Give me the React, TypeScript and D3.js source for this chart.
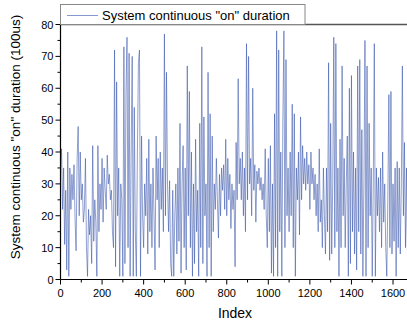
import React, { useEffect, useRef } from "react";
import * as d3 from "d3";

const STEP = 5;
const durations: number[] = [
  33, 41, 22, 35, 11, 28, 3, 40, 1, 35, 22, 33, 25, 36, 19, 9, 38, 48, 20, 40,
  25, 30, 18, 22, 38, 10, 1, 22, 14, 20, 5, 42, 12, 25, 18, 1, 42, 15, 30, 22,
  38, 18, 35, 28, 22, 39, 30, 33, 25, 28, 15, 10, 72, 4, 62, 20, 35, 1, 30, 25,
  1, 73, 5, 58, 76, 10, 71, 1, 40, 70, 1, 54, 15, 1, 40, 68, 72, 1, 45, 20,
  10, 30, 20, 38, 8, 44, 15, 30, 10, 35, 20, 3, 45, 25, 38, 10, 40, 22, 35, 15,
  77, 20, 65, 30, 15, 31, 5, 1, 28, 1, 20, 30, 8, 35, 12, 49, 2, 30, 42, 10,
  35, 3, 67, 20, 59, 10, 40, 1, 30, 5, 44, 15, 28, 1, 49, 10, 73, 5, 51, 20,
  30, 1, 65, 10, 52, 1, 45, 15, 30, 22, 38, 25, 13, 33, 20, 35, 28, 36, 22, 44,
  20, 38, 25, 33, 16, 30, 22, 28, 4, 43, 25, 63, 30, 38, 25, 40, 20, 35, 15, 74,
  25, 70, 30, 38, 20, 60, 28, 36, 18, 34, 30, 35, 28, 32, 25, 30, 22, 41, 20, 10,
  38, 15, 42, 2, 30, 1, 52, 10, 78, 1, 72, 15, 40, 1, 50, 78, 10, 69, 20, 35,
  15, 40, 20, 55, 10, 52, 1, 35, 25, 40, 14, 51, 25, 42, 30, 38, 28, 40, 30, 36,
  22, 40, 30, 35, 25, 33, 20, 30, 15, 41, 18, 25, 10, 35, 20, 8, 35, 15, 68, 6,
  49, 8, 30, 76, 10, 74, 15, 35, 1, 44, 10, 67, 20, 38, 10, 30, 45, 1, 60, 5,
  64, 15, 40, 8, 35, 3, 67, 15, 69, 8, 47, 1, 30, 75, 1, 67, 10, 49, 20, 35,
  1, 30, 74, 1, 35, 20, 32, 15, 35, 10, 40, 18, 30, 10, 1, 25, 58, 10, 59, 8,
  30, 12, 35, 1, 37, 10, 35, 8, 30, 67, 20, 43, 10, 35, 5, 42, 20, 30, 15,
];
const xTicks: number[] = [0, 200, 400, 600, 800, 1000, 1200, 1400, 1600];
const yTicks: number[] = [0, 10, 20, 30, 40, 50, 60, 70, 80];
const legendLabel = 'System continuous "on" duration';
const xTitle = "Index";
const yTitle = 'System continuous "on" duration (100us)';

const W = 407;
const H = 324;
const FONT = "'Liberation Sans', Arial, sans-serif";
const LINE = "#3450a8";

export default function App() {
  const ref = useRef<SVGSVGElement | null>(null);

  useEffect(() => {
    const svg = d3.select(ref.current);
    svg.selectAll("*").remove();

    const x = d3.scaleLinear().domain([0, 1700]).range([60.5, 413.8]);
    const y = d3.scaleLinear().domain([0, 80]).range([279.5, 24.5]);

    const data = durations.map((v, i) => ({ i: i * STEP, v }));

    const line = d3
      .line<{ i: number; v: number }>()
      .x((d) => x(d.i))
      .y((d) => y(d.v));
    svg
      .append("path")
      .datum(data)
      .attr("d", line)
      .attr("fill", "none")
      .attr("stroke", LINE)
      .attr("stroke-width", 0.55)
      .attr("stroke-linejoin", "miter");

    // top frame
    svg
      .append("line")
      .attr("x1", 60.5)
      .attr("x2", W)
      .attr("y1", 24.5)
      .attr("y2", 24.5)
      .attr("stroke", "#555")
      .attr("stroke-width", 1.5);

    // x axis
    const gx = svg.append("g").attr("transform", "translate(0,279.5)");
    gx.append("line")
      .attr("x1", 60.5)
      .attr("x2", W)
      .attr("stroke", "#000")
      .attr("stroke-width", 1.2);
    const xMinor = d3.range(100, 1700, 200);
    gx.selectAll(".xminor")
      .data(xMinor)
      .enter()
      .append("line")
      .attr("x1", (d) => x(d))
      .attr("x2", (d) => x(d))
      .attr("y1", 0)
      .attr("y2", 3)
      .attr("stroke", "#000");
    gx.selectAll(".xmajor")
      .data(xTicks)
      .enter()
      .append("line")
      .attr("x1", (d) => x(d))
      .attr("x2", (d) => x(d))
      .attr("y1", 0)
      .attr("y2", 5)
      .attr("stroke", "#000");
    gx.selectAll(".xlab")
      .data(xTicks)
      .enter()
      .append("text")
      .attr("x", (d) => x(d))
      .attr("y", 17)
      .attr("text-anchor", "middle")
      .attr("font-family", FONT)
      .attr("font-size", 11)
      .attr("fill", "#000")
      .text((d) => String(d));

    // y axis
    const gy = svg.append("g").attr("transform", "translate(60.5,0)");
    gy.append("line")
      .attr("y1", 24.5)
      .attr("y2", 279.5)
      .attr("stroke", "#000")
      .attr("stroke-width", 1.2);
    const yMinor = d3.range(5, 80, 10);
    gy.selectAll(".yminor")
      .data(yMinor)
      .enter()
      .append("line")
      .attr("x1", -3)
      .attr("x2", 0)
      .attr("y1", (d) => y(d))
      .attr("y2", (d) => y(d))
      .attr("stroke", "#000");
    gy.selectAll(".ymajor")
      .data(yTicks)
      .enter()
      .append("line")
      .attr("x1", -5)
      .attr("x2", 0)
      .attr("y1", (d) => y(d))
      .attr("y2", (d) => y(d))
      .attr("stroke", "#000");
    gy.selectAll(".ylab")
      .data(yTicks)
      .enter()
      .append("text")
      .attr("x", -7)
      .attr("y", (d) => y(d) + 4)
      .attr("text-anchor", "end")
      .attr("font-family", FONT)
      .attr("font-size", 11)
      .attr("fill", "#000")
      .text((d) => String(d));

    // titles
    svg
      .append("text")
      .attr("x", 235)
      .attr("y", 318)
      .attr("text-anchor", "middle")
      .attr("font-family", FONT)
      .attr("font-size", 14)
      .attr("fill", "#000")
      .text(xTitle);
    svg
      .append("text")
      .attr("transform", "translate(20,137) rotate(-90)")
      .attr("text-anchor", "middle")
      .attr("font-family", FONT)
      .attr("font-size", 13.5)
      .attr("fill", "#000")
      .text(yTitle);

    // legend
    const lg = svg.append("g");
    lg.append("rect")
      .attr("x", 60.5)
      .attr("y", 4.5)
      .attr("width", 244.5)
      .attr("height", 20)
      .attr("fill", "#fff")
      .attr("stroke", "#888")
      .attr("stroke-width", 1);
    lg.append("line")
      .attr("x1", 67)
      .attr("x2", 98)
      .attr("y1", 15.5)
      .attr("y2", 15.5)
      .attr("stroke", LINE)
      .attr("stroke-width", 0.6);
    lg.append("text")
      .attr("x", 102)
      .attr("y", 20)
      .attr("font-family", FONT)
      .attr("font-size", 13)
      .attr("fill", "#000")
      .text(legendLabel);
  }, []);

  return (
    <div style={{ position: "fixed", left: 0, top: 0, width: W, height: H, background: "#fff" }}>
      <svg ref={ref} width={W} height={H} style={{ display: "block" }} />
    </div>
  );
}
